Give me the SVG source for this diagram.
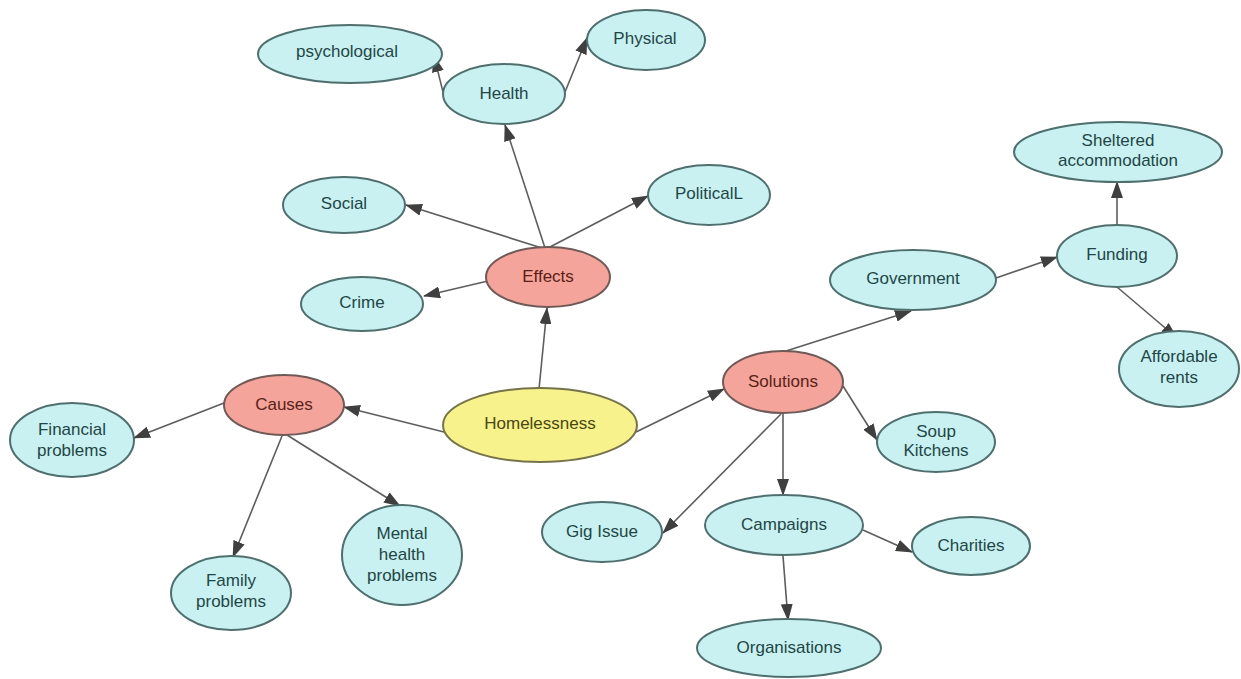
<svg xmlns="http://www.w3.org/2000/svg" width="1241" height="679" viewBox="0 0 1241 679">
<style>
.bg{fill:#ffffff}
.leaf ellipse{fill:#c9f1f1;stroke:#4f6f6f;stroke-width:2}
.cat ellipse{fill:#f4a49b;stroke:#6f5a58;stroke-width:2}
.root ellipse{fill:#f7f28c;stroke:#76734a;stroke-width:2}
text{font-family:"Liberation Sans",Arial,sans-serif;font-size:17px;text-anchor:middle}
.leaf text{fill:#1f4646}
.cat text{fill:#5a1f17}
.root text{fill:#4a4714}
#edges line{stroke:#5d5d5d;stroke-width:1.6;marker-end:url(#arr)}
</style>
<defs>
<marker id="arr" markerUnits="userSpaceOnUse" markerWidth="17" markerHeight="12" refX="16" refY="6" orient="auto">
<path d="M0,0 L17,6 L0,12 z" fill="#3f3f3f"/>
</marker>
</defs>
<rect class="bg" x="0" y="0" width="1241" height="679"/>
<g id="edges">
<line x1="539" y1="389" x2="547" y2="308"/>
<line x1="444" y1="432" x2="344" y2="407"/>
<line x1="636" y1="432" x2="724" y2="389"/>
<line x1="545" y1="248" x2="505" y2="125"/>
<line x1="545" y1="249" x2="406" y2="205"/>
<line x1="548" y1="248" x2="648" y2="196"/>
<line x1="488" y1="281" x2="424" y2="296"/>
<line x1="443" y1="92" x2="434" y2="56"/>
<line x1="565" y1="92" x2="587" y2="38"/>
<line x1="224" y1="403" x2="134" y2="438"/>
<line x1="282" y1="436" x2="233" y2="557"/>
<line x1="287" y1="435" x2="400" y2="506"/>
<line x1="783" y1="352" x2="911" y2="311"/>
<line x1="996" y1="278" x2="1057" y2="257"/>
<line x1="1117" y1="225" x2="1117" y2="182"/>
<line x1="1117" y1="287" x2="1177" y2="338"/>
<line x1="843" y1="386" x2="877" y2="440"/>
<line x1="781" y1="414" x2="663" y2="533"/>
<line x1="783" y1="414" x2="783" y2="495"/>
<line x1="863" y1="530" x2="912" y2="552"/>
<line x1="783" y1="556" x2="788" y2="620"/>
</g>
<g id="n-homelessness" class="root"><ellipse cx="540" cy="425" rx="97" ry="37"/><text x="540" y="429">Homelessness</text></g>
<g id="n-effects" class="cat"><ellipse cx="548" cy="277" rx="62" ry="30"/><text x="548" y="282">Effects</text></g>
<g id="n-causes" class="cat"><ellipse cx="284" cy="405" rx="60" ry="30"/><text x="284" y="410">Causes</text></g>
<g id="n-solutions" class="cat"><ellipse cx="783" cy="382" rx="60" ry="31"/><text x="783" y="387">Solutions</text></g>
<g id="n-psychological" class="leaf"><ellipse cx="350" cy="54" rx="92" ry="29"/><text x="347" y="57">psychological</text></g>
<g id="n-health" class="leaf"><ellipse cx="504" cy="94" rx="61" ry="30"/><text x="504" y="99">Health</text></g>
<g id="n-physical" class="leaf"><ellipse cx="646" cy="40" rx="59" ry="30"/><text x="645" y="44">Physical</text></g>
<g id="n-social" class="leaf"><ellipse cx="344" cy="205" rx="61" ry="28"/><text x="344" y="209">Social</text></g>
<g id="n-political" class="leaf"><ellipse cx="709" cy="195" rx="61" ry="30"/><text x="709" y="199">PoliticalL</text></g>
<g id="n-crime" class="leaf"><ellipse cx="362" cy="304" rx="61" ry="27"/><text x="362" y="308">Crime</text></g>
<g id="n-financial" class="leaf"><ellipse cx="72" cy="440" rx="62" ry="37"/><text x="72" y="435">Financial</text><text x="72" y="456">problems</text></g>
<g id="n-family" class="leaf"><ellipse cx="231" cy="593" rx="60" ry="37"/><text x="231" y="586">Family</text><text x="231" y="607">problems</text></g>
<g id="n-mental" class="leaf"><ellipse cx="402" cy="555" rx="60" ry="50"/><text x="402" y="539">Mental</text><text x="402" y="560">health</text><text x="402" y="581">problems</text></g>
<g id="n-government" class="leaf"><ellipse cx="913" cy="280" rx="83" ry="30"/><text x="913" y="284">Government</text></g>
<g id="n-funding" class="leaf"><ellipse cx="1117" cy="256" rx="60" ry="31"/><text x="1117" y="260">Funding</text></g>
<g id="n-sheltered" class="leaf"><ellipse cx="1118" cy="152" rx="104" ry="30"/><text x="1118" y="146">Sheltered</text><text x="1118" y="166">accommodation</text></g>
<g id="n-affordable" class="leaf"><ellipse cx="1179" cy="369" rx="60" ry="38"/><text x="1179" y="362">Affordable</text><text x="1179" y="383">rents</text></g>
<g id="n-soup" class="leaf"><ellipse cx="936" cy="442" rx="59" ry="30"/><text x="936" y="437">Soup</text><text x="936" y="456">Kitchens</text></g>
<g id="n-gig" class="leaf"><ellipse cx="602" cy="532" rx="60" ry="30"/><text x="602" y="537">Gig Issue</text></g>
<g id="n-campaigns" class="leaf"><ellipse cx="784" cy="525" rx="79" ry="30"/><text x="784" y="530">Campaigns</text></g>
<g id="n-charities" class="leaf"><ellipse cx="971" cy="546" rx="59" ry="29"/><text x="971" y="551">Charities</text></g>
<g id="n-organisations" class="leaf"><ellipse cx="789" cy="648" rx="92" ry="29"/><text x="789" y="653">Organisations</text></g>
</svg>
